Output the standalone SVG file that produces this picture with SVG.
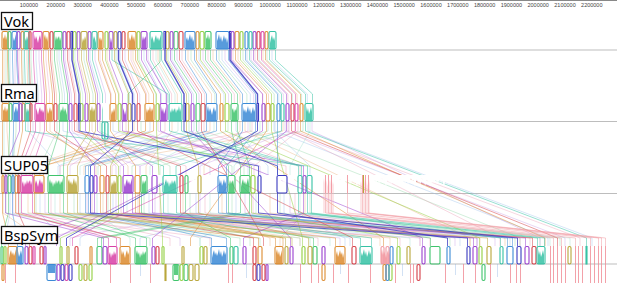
<svg xmlns="http://www.w3.org/2000/svg" width="617" height="285" viewBox="0 0 617 285">
<style>
.o{color:#dc8b2f}.g{color:#3fc46c}.bl{color:#3b8ad6}.p{color:#9a40cf}.t{color:#36c2a5}.r{color:#d63f48}.m{color:#d840a6}.l{color:#92cf40}.ol{color:#b9a63b}.n{color:#3a3ac0}.pk{color:#f29aa2}
.lo{color:#eab07a}.lg{color:#8fd6a4}.lb{color:#9cc0ec}.lp{color:#c79be6}.lk{color:#eb9cb5}.lt{color:#9edfcd}
.f rect{fill:currentColor;opacity:.85}
.b rect{fill:none;stroke:currentColor;stroke-width:1.1}
.k{fill:none;stroke:currentColor;stroke-width:.6;opacity:.85}
.k.n{stroke-width:.9}
.k.n1{stroke-width:1.4}
.x{fill:none;stroke:currentColor;stroke-width:.5;opacity:.8}
.ax{stroke:#bdbdbd;stroke-width:1.2}
.lab rect{fill:#fff;stroke:#111;stroke-width:1.3}
.lab text{font-family:"Noto Sans","Open Sans",sans-serif;font-size:14.5px;fill:#000}
.rl text{font-family:"Liberation Sans",sans-serif;font-size:5.5px;fill:#444;text-anchor:middle}
.pv{fill:none;stroke:#f08a94;stroke-width:1;opacity:.8}
.lv{fill:none;stroke-width:.7;opacity:.5}
</style>
<defs>
<pattern id="jag" patternUnits="userSpaceOnUse" width="29" height="18">
<polygon fill="#fff" points="0,0 29,0 29,6 28,9 27,5 26,10 25,7 24,12 23,6 22,9 21,4 20,8 19,11 18,5 17,9 16,3 15,7 14,10 13,6 12,9 11,4 10,7 9,12 8,8 7,5 6,9 5,3 4,8 3,6 2,10 1,5 0,7"/>
</pattern>
</defs>
<rect width="617" height="285" fill="#fff"/>
<g id="ruler" class="rl">
<line x1="0" y1="0.5" x2="617" y2="0.5" stroke="#888" stroke-width="1"/>
<text x="29" y="7">100000</text><text x="55.8" y="7">200000</text><text x="82.6" y="7">300000</text><text x="109.4" y="7">400000</text><text x="136.2" y="7">500000</text><text x="163" y="7">600000</text><text x="189.8" y="7">700000</text><text x="216.6" y="7">800000</text><text x="243.4" y="7">900000</text><text x="270.2" y="7">1000000</text><text x="297" y="7">1100000</text><text x="323.8" y="7">1200000</text><text x="350.6" y="7">1300000</text><text x="377.4" y="7">1400000</text><text x="404.2" y="7">1500000</text><text x="431" y="7">1600000</text><text x="457.8" y="7">1700000</text><text x="484.6" y="7">1800000</text><text x="511.4" y="7">1900000</text><text x="538.2" y="7">2000000</text><text x="565" y="7">2100000</text><text x="591.8" y="7">2200000</text>
</g>
<g id="axes">
<line class="ax" x1="0" y1="50" x2="617" y2="50"/>
<line class="ax" x1="0" y1="121.5" x2="617" y2="121.5"/>
<line class="ax" x1="0" y1="193.5" x2="617" y2="193.5"/>
<line class="ax" x1="0" y1="264" x2="617" y2="264"/>
</g>
<g id="connectors">
<path class="x lo" d="M4,50V60L4,94V103M27,50V60L28,94V103M52,50V60L56.5,94V103M79,50V60L87.3,94V103M107,50V60L119.2,94V103M133,50V60L148.8,94V103M158,50V60L177.3,94V103M188,50V60L211.5,94V103M213,50V60L240,94V103M238,50V60L268.5,94V103M263,50V60L297,94V103M7,121V131L10,166V175M50,121V131L96,166V175M92,121V131L128,166V175M134,121V131L30,166V175M172,121V131L146,166V175M210,121V131L40,166V175M240,121V131L204,166V175M283,121V131L84,166V175M3,193V213L40,238V246M28,193V213L380,238V246M60,193V213L470,238V246M103,193V213L300,238V246M138,193V213L390,238V246M183,193V213L270,238V246M222,193V213L480,238V246M270,193V213L505,238V246M305,193V213L280,238V246M245,121V131L470,238V246"/>
<path class="x lg" d="M6,50V60L6,94V103M31,50V60L32.5,94V103M57,50V60L62.2,94V103M84,50V60L93,94V103M116,50V60L129.4,94V103M139,50V60L155.7,94V103M168,50V60L188.7,94V103M191,50V60L214.9,94V103M219,50V60L246.9,94V103M243,50V60L274.2,94V103M267,50V60L301.6,94V103M16,121V131L13,166V175M57,121V131L40,166V175M100,121V131L170,166V175M141,121V131L232,166V175M189,121V131L244,166V175M228,121V131L98,166V175M268,121V131L160,166V175M303,121V131L132,166V175M6,193V213L150,238V246M36,193V213L240,238V246M74,193V213L260,238V246M108,193V213L450,238V246M144,193V213L250,238V246M190,193V213L540,238V246M232,193V213L310,238V246M280,193V213L560,238V246M310,193V213L515,238V246M250,121V131L520,238V246"/>
<path class="x lb" d="M10,50V60L10,94V103M36,50V60L38.2,94V103M59,50V60L64.5,94V103M90,50V60L99.8,94V103M120,50V60L134,94V103M144,50V60L161.4,94V103M172,50V60L193.3,94V103M199,50V60L224,94V103M222,50V60L250.3,94V103M247,50V60L278.8,94V103M272,50V60L307.3,94V103M28,121V131L60,166V175M63,121V131L210,166V175M113,121V131L248,166V175M150,121V131L58,166V175M194,121V131L18,166V175M236,121V131L268,166V175M274,121V131L310,166V175M10,193V213L5,238V246M40,193V213L60,238V246M80,193V213L510,238V246M113,193V213L80,238V246M149,193V213L460,238V246M196,193V213L350,238V246M236,193V213L140,238V246M284,193V213L345,238V246M275,121V131L548,238V246M308,121V131L592,238V246"/>
<path class="x lp" d="M15,50V60L15,94V103M39,50V60L41.7,94V103M65,50V60L71.3,94V103M95,50V60L105.5,94V103M125,50V60L139.7,94V103M148,50V60L165.9,94V103M177,50V60L199,94V103M203,50V60L228.6,94V103M225,50V60L253.7,94V103M251,50V60L283.3,94V103M33,121V131L140,166V175M72,121V131L116,166V175M120,121V131L70,166V175M158,121V131L260,166V175M199,121V131L120,166V175M248,121V131L140,166V175M289,121V131L200,166V175M13,193V213L120,238V246M45,193V213L420,238V246M87,193V213L180,238V246M116,193V213L340,238V246M155,193V213L45,238V246M200,193V213L70,238V246M245,193V213L455,238V246M290,193V213L495,238V246M285,121V131L565,238V246M312,121V131L540,238V246"/>
<path class="x lk" d="M19,50V60L19,94V103M46,50V60L49.6,94V103M69,50V60L75.9,94V103M100,50V60L111.2,94V103M131,50V60L146.5,94V103M153,50V60L171.6,94V103M182,50V60L204.7,94V103M208,50V60L234.3,94V103M233,50V60L262.8,94V103M255,50V60L287.9,94V103M40,121V131L26,166V175M77,121V131L186,166V175M126,121V131L286,166V175M165,121V131L112,166V175M204,121V131L300,166V175M252,121V131L60,166V175M298,121V131L254,166V175M16,193V213L210,238V246M51,193V213L170,238V246M92,193V213L400,238V246M121,193V213L520,238V246M160,193V213L318,238V246M205,193V213L430,238V246M253,193V213L530,238V246M295,193V213L420,238V246M295,121V131L580,238V246M288,121V131L500,238V246"/>
<path class="x lt" d="M23,50V60L23.4,94V103M75,50V60L82.7,94V103M156,50V60L175,94V103M259,50V60L292.5,94V103M4,121V131L4,166V175M178,121V131L80,166V175M214,121V131L150,166V175M260,121V131L234,166V175M310,121V131L290,166V175M20,193V213L300,238V246M55,193V213L330,238V246M97,193V213L130,238V246M127,193V213L200,238V246M168,193V213L410,238V246M210,193V213L550,238V246M256,193V213L200,238V246M300,193V213L570,238V246"/>
<path class="k o" d="M2.5,50V60L2.5,94V103M7.5,50V60L8.5,94V103M21.5,50V60L22.5,94V103M43.5,50V60L46.5,94V103M48.5,50V60L52.5,94V103M98.5,50V60L110.5,94V103M102.5,50V60L115.5,94V103M128.5,50V60L145.5,94V103M135.5,50V60L153.5,94V103M196.5,50V60L220.5,94V103M235.5,50V60L266.5,94V103M265.5,50V60L300.5,94V103M2.5,121V131L2.5,166V175M22.5,121V131L15.5,166V175M46.5,121V131L100.5,166V175M110.5,121V131L135.5,166V175M145.5,121V131L34.5,166V175M153.5,121V131L43.5,166V175M220.5,121V131L383.5,238V246M266.5,121V131L190.5,238V246M300.5,121V131L545,238V246M2.5,193V213L8.5,238V246M15.5,193V213L120.5,238V246M34.5,193V213L258.5,238V246M100.5,193V213L335.5,238V246M135.5,193V213L275.5,238V246M139.5,193V213L283,238V246"/>
<path class="k g" d="M8.5,50V60L9.5,94V103M54.5,50V60L59.5,94V103M61.5,50V60L67.5,94V103M174.5,50V60L196.5,94V103M205.5,50V60L231.5,94V103M210.5,50V60L237.5,94V103M160,50V62L128,94V103M9.5,121V131L8.5,166V175M59.5,121V131L48.5,166V175M67.5,121V131L63.5,166V175M196.5,121V131L228.5,166V175M231.5,121V131L240.5,166V175M237.5,121V131L249.5,166V175M8.5,193V213L1.5,238V246M48.5,193V213L135.5,238V246M63.5,193V213L146.5,238V246M141.5,193V213L313.5,238V246M185.5,193V213L230.5,238V246M228.5,193V213L430.5,238V246M240.5,193V213L97.5,238V246M249.5,193V213L101.5,238V246"/>
<path class="k bl" d="M12.5,50V60L13.5,94V103M16.5,50V60L18.5,94V103M185.5,50V60L206.5,94V103M194.5,50V60L216.5,94V103M216.5,50V60L242.5,94V103M228.5,50V60L255.5,94V103M245.5,50V60L277.5,94V103M13.5,121V131L12.5,166V175M206.5,121V131L85.5,166V175M216.5,121V131L88.5,166V175M242.5,121V131L218.5,166V175M255.5,121V131L226.5,166V175M277.5,121V131L277.5,166V175M12.5,193V213L17.5,238V246M85.5,193V213L211.5,238V246M88.5,193V213L226.5,238V246M218.5,193V213L507.5,238V246M226.5,193V213L512.5,238V246"/>
<path class="k p" d="M17.5,50V60L19.5,94V103M63.5,50V60L69.5,94V103M77.5,50V60L85.5,94V103M88.5,50V60L97.5,94V103M109.5,50V60L122.5,94V103M141.5,50V60L160.5,94V103M146.5,50V60L166.5,94V103M170.5,50V60L191.5,94V103M231.5,50V60L262.5,94V103M253.5,50V60L286.5,94V103M19.5,121V131L5.5,166V175M69.5,121V131L94.5,166V175M85.5,121V131L123.5,166V175M97.5,121V131L152.5,166V175M122.5,121V131L303.5,166V175M160.5,121V131L422.5,238V246M191.5,121V131L290.5,238V246M262.5,121V131L56.5,238V246M286.5,121V131L152.5,238V246M5.5,193V213L103.5,238V246M94.5,193V213L25.5,238V246M123.5,193V213L473.5,238V246M132.5,193V213L477,238V246M152.5,193V213L525.5,238V246M303.5,193V213L243.5,238V246"/>
<path class="k t" d="M24.5,50V60L25.5,94V103M28.5,50V60L29.5,94V103M92.5,50V60L102.5,94V122M150.5,50V60L169.5,94V103M161.5,50V60L181.5,94V103M249.5,50V60L281.5,94V103M269.5,50V60L305.5,94V103M275.5,50V60L312.5,94V103M112,50V60L168,94V103M25.5,121V131L307.5,166V175M105,140V146L163.5,166V175M169.5,121V131L298.5,166V175M181.5,121V131L301.5,166V175M281.5,121V131L176,166V175M305.5,121V131L586.5,238V246M163.5,193V213L360.5,238V246M176.5,193V213L371.5,238V246M298.5,193V213L537.5,238V246M307.5,193V213L500.5,238V246M311.5,193V213L544.5,238V246"/>
<path class="k r" d="M29.5,50V60L30.5,94V103M50.5,50V60L54.5,94V103M67.5,50V60L74.5,94V103M122.5,50V60L137.5,94V103M179.5,50V60L201.5,94V103M257.5,50V60L291.5,94V103M30.5,121V131L18.5,166V175M54.5,121V131L106.5,166V175M74.5,121V131L180.5,166V175M137.5,121V131L352.5,238V246M201.5,121V131L263.5,238V246M291.5,121V131L557.5,238V246M18.5,193V213L29.5,238V246M106.5,193V213L253.5,238V246M180.5,193V213L532.5,238V246"/>
<path class="k m" d="M33.5,50V60L35.5,94V103M41.5,50V60L44.5,94V103M261.5,50V60L295.5,94V103M35.5,121V131L21.5,166V175M44.5,121V131L32.5,166V175M295.5,121V131L72.5,238V246M21.5,193V213L108.5,238V246M32.5,193V213L116.5,238V246"/>
<path class="k l" d="M73.5,50V60L80.5,94V103M105.5,50V60L118.5,94V103M137.5,50V60L156.5,94V103M200.5,50V60L225.5,94V103M240.5,50V60L271.5,94V103M80.5,121V131L118.5,166V175M118.5,121V131L251.5,166V175M156.5,121V131L162.5,238V246M225.5,121V131L479.5,238V246M271.5,121V131L302.5,238V246M118.5,193V213L60.5,238V246M251.5,193V213L397.5,238V246"/>
<path class="k ol" d="M81.5,50V60L89.5,94V103M86.5,50V60L95.5,94V103M114.5,50V60L128.5,94V103M166.5,50V60L186.5,94V103M89.5,121V131L67.5,166V175M95.5,121V131L77.5,166V175M128.5,121V131L110.5,166V175M186.5,121V131L198.5,166V175M67.5,193V213L285.5,238V246M77.5,193V213L292,238V246M110.5,193V213L487.5,238V246M198.5,193V213L308.5,238V246"/>
<path class="k n n1" d="M72,50V60L79,94V103M118.5,50V60L132.5,94V103M165,50V60L184,94V103M230,50V60L257.5,94V103"/>
<path class="k n" d="M132.5,121V131L90.5,166V175M79,121V131L258.5,166V175M184,121V131L277.5,166V175M257.5,121V131L66.5,238V246M90.5,193V213L467.5,238V246M258.5,193V213L517.5,238V246M277.5,193V213L447.5,238V246"/>
<path class="k pk" d="M325.5,193V213L553.5,238V246M328.5,193V213L561.5,238V246M331.5,193V213L575.5,238V246M347.5,193V213L590.5,238V246M362.5,193V213L598.5,238V246M365.5,193V213L601.5,238V246M368.5,193V213L605.5,238V246"/>
</g>
<g id="vok" transform="translate(0,31)">
<g class="f o"><rect x="3" y="1" width="4" height="17"/><rect x="44" y="1" width="4" height="17"/><rect x="99" y="1" width="3" height="17"/><rect x="129" y="1" width="6" height="17"/></g>
<g class="f g"><rect x="55" y="1" width="6" height="17"/><rect x="206" y="1" width="4" height="17"/></g>
<g class="f bl"><rect x="13" y="1" width="3" height="17"/><rect x="186" y="1" width="8" height="17"/><rect x="217" y="1" width="11" height="17"/></g>
<g class="f p"><rect x="110" y="1" width="2" height="17"/><rect x="142" y="1" width="4" height="17"/></g>
<g class="f t"><rect x="25" y="1" width="3" height="17"/><rect x="93" y="1" width="3" height="17"/><rect x="151" y="1" width="10" height="17"/><rect x="270" y="1" width="5" height="17"/></g>
<g class="f m"><rect x="34" y="1" width="7" height="17"/></g>
<g class="f ol"><rect x="82" y="1" width="4" height="17"/></g>
<rect x="0" y="0" width="617" height="18" fill="url(#jag)"/>
<g class="b o"><rect x="2" y=".5" width="6" height="17.5" rx="1.5"/><rect x="21" y=".5" width="3" height="17.5" rx="1.5"/><rect x="43" y=".5" width="6" height="17.5" rx="1.5"/><rect x="98" y=".5" width="5" height="17.5" rx="1.5"/><rect x="128" y=".5" width="8" height="17.5" rx="1.5"/><rect x="196" y=".5" width="3" height="17.5" rx="1.5"/><rect x="235" y=".5" width="4" height="17.5" rx="1.5"/><rect x="265" y=".5" width="3" height="17.5" rx="1.5"/></g>
<g class="b g"><rect x="8" y=".5" width="3" height="17.5" rx="1.5"/><rect x="54" y=".5" width="8" height="17.5" rx="1.5"/><rect x="174" y=".5" width="4" height="17.5" rx="1.5"/><rect x="205" y=".5" width="6" height="17.5" rx="1.5"/></g>
<g class="b bl"><rect x="12" y=".5" width="5" height="17.5" rx="1.5"/><rect x="185" y=".5" width="10" height="17.5" rx="1.5"/><rect x="216" y=".5" width="13" height="17.5" rx="1.5"/><rect x="245" y=".5" width="3" height="17.5" rx="1.5"/></g>
<g class="b p"><rect x="17" y=".5" width="3" height="17.5" rx="1.5"/><rect x="63" y=".5" width="3" height="17.5" rx="1.5"/><rect x="77" y=".5" width="3" height="17.5" rx="1.5"/><rect x="88" y=".5" width="3" height="17.5" rx="1.5"/><rect x="109" y=".5" width="4" height="17.5" rx="1.5"/><rect x="141" y=".5" width="6" height="17.5" rx="1.5"/><rect x="170" y=".5" width="3" height="17.5" rx="1.5"/><rect x="231" y=".5" width="3" height="17.5" rx="1.5"/><rect x="253" y=".5" width="3" height="17.5" rx="1.5"/></g>
<g class="b t"><rect x="24" y=".5" width="5" height="17.5" rx="1.5"/><rect x="92" y=".5" width="5" height="17.5" rx="1.5"/><rect x="150" y=".5" width="12" height="17.5" rx="1.5"/><rect x="249" y=".5" width="3" height="17.5" rx="1.5"/><rect x="269" y=".5" width="7" height="17.5" rx="1.5"/></g>
<g class="b r"><rect x="29" y=".5" width="2" height="17.5" rx="1"/><rect x="50" y=".5" width="3" height="17.5" rx="1.5"/><rect x="67" y=".5" width="3" height="17.5" rx="1.5"/><rect x="122" y=".5" width="3" height="17.5" rx="1.5"/><rect x="179" y=".5" width="4" height="17.5" rx="1.5"/><rect x="257" y=".5" width="3" height="17.5" rx="1.5"/></g>
<g class="b m"><rect x="33" y=".5" width="9" height="17.5" rx="1.5"/><rect x="261" y=".5" width="3" height="17.5" rx="1.5"/></g>
<g class="b l"><rect x="73" y=".5" width="3" height="17.5" rx="1.5"/><rect x="105" y=".5" width="3" height="17.5" rx="1.5"/><rect x="137" y=".5" width="3" height="17.5" rx="1.5"/><rect x="200" y=".5" width="4" height="17.5" rx="1.5"/><rect x="240" y=".5" width="3" height="17.5" rx="1.5"/></g>
<g class="b ol"><rect x="81" y=".5" width="6" height="17.5" rx="1.5"/><rect x="114" y=".5" width="3" height="17.5" rx="1.5"/><rect x="166" y=".5" width="3" height="17.5" rx="1.5"/></g>
<g class="b n"><rect x="71" y=".5" width="1.5" height="17.5"/><rect x="118" y=".5" width="3" height="17.5" rx="1.5"/><rect x="164" y=".5" width="1.5" height="17.5"/><rect x="229.5" y=".5" width="1.2" height="17.5"/></g>
</g>
<g id="rma" transform="translate(0,103)">
<g class="f o"><rect x="3" y="1" width="5" height="17"/><rect x="47" y="1" width="5" height="17"/><rect x="111" y="1" width="4" height="17"/><rect x="146" y="1" width="7" height="17"/></g>
<g class="f g"><rect x="60" y="1" width="7" height="17"/><rect x="232" y="1" width="5" height="17"/></g>
<g class="f bl"><rect x="14" y="1" width="4" height="17"/><rect x="207" y="1" width="9" height="17"/><rect x="243" y="1" width="12" height="17"/></g>
<g class="f p"><rect x="123" y="1" width="3" height="17"/><rect x="161" y="1" width="5" height="17"/></g>
<g class="f t"><rect x="26" y="1" width="3" height="17"/><rect x="170" y="1" width="11" height="17"/><rect x="306" y="1" width="6" height="17"/></g>
<g class="f m"><rect x="36" y="1" width="8" height="17"/></g>
<g class="f ol"><rect x="90" y="1" width="5" height="17"/></g>
<rect x="0" y="0" width="617" height="18" fill="url(#jag)"/>
<g class="b o"><rect x="2" y=".5" width="7" height="17.5" rx="1.5"/><rect x="22" y=".5" width="3" height="17.5" rx="1.5"/><rect x="46" y=".5" width="7" height="17.5" rx="1.5"/><rect x="110" y=".5" width="6" height="17.5" rx="1.5"/><rect x="145" y=".5" width="9" height="17.5" rx="1.5"/><rect x="220" y=".5" width="3" height="17.5" rx="1.5"/><rect x="266" y=".5" width="4" height="17.5" rx="1.5"/><rect x="300" y=".5" width="3" height="17.5" rx="1.5"/></g>
<g class="b g"><rect x="9" y=".5" width="3" height="17.5" rx="1.5"/><rect x="59" y=".5" width="9" height="17.5" rx="1.5"/><rect x="196" y=".5" width="4" height="17.5" rx="1.5"/><rect x="231" y=".5" width="7" height="17.5" rx="1.5"/></g>
<g class="b bl"><rect x="13" y=".5" width="6" height="17.5" rx="1.5"/><rect x="206" y=".5" width="11" height="17.5" rx="1.5"/><rect x="242" y=".5" width="14" height="17.5" rx="1.5"/><rect x="277" y=".5" width="3" height="17.5" rx="1.5"/></g>
<g class="b p"><rect x="19" y=".5" width="3" height="17.5" rx="1.5"/><rect x="69" y=".5" width="3" height="17.5" rx="1.5"/><rect x="85" y=".5" width="3" height="17.5" rx="1.5"/><rect x="97" y=".5" width="3" height="17.5" rx="1.5"/><rect x="122" y=".5" width="5" height="17.5" rx="1.5"/><rect x="160" y=".5" width="7" height="17.5" rx="1.5"/><rect x="191" y=".5" width="3" height="17.5" rx="1.5"/><rect x="262" y=".5" width="3" height="17.5" rx="1.5"/><rect x="286" y=".5" width="3" height="17.5" rx="1.5"/></g>
<g class="b t"><rect x="25" y=".5" width="5" height="17.5" rx="1.5"/><rect x="169" y=".5" width="13" height="17.5" rx="1.5"/><rect x="281" y=".5" width="3" height="17.5" rx="1.5"/><rect x="305" y=".5" width="8" height="17.5" rx="1.5"/><rect x="102" y="19" width="6" height="17" rx="1.5"/></g>
<g class="f t"><rect x="104" y="19.5" width="1.5" height="16"/></g>
<g class="b r"><rect x="30" y=".5" width="2" height="17.5" rx="1"/><rect x="54" y=".5" width="3" height="17.5" rx="1.5"/><rect x="74" y=".5" width="3" height="17.5" rx="1.5"/><rect x="137" y=".5" width="3" height="17.5" rx="1.5"/><rect x="201" y=".5" width="4" height="17.5" rx="1.5"/><rect x="291" y=".5" width="3" height="17.5" rx="1.5"/></g>
<g class="b m"><rect x="35" y=".5" width="10" height="17.5" rx="1.5"/><rect x="295" y=".5" width="3" height="17.5" rx="1.5"/></g>
<g class="b l"><rect x="80" y=".5" width="3" height="17.5" rx="1.5"/><rect x="118" y=".5" width="3" height="17.5" rx="1.5"/><rect x="156" y=".5" width="3" height="17.5" rx="1.5"/><rect x="225" y=".5" width="4" height="17.5" rx="1.5"/><rect x="271" y=".5" width="3" height="17.5" rx="1.5"/></g>
<g class="b ol"><rect x="89" y=".5" width="7" height="17.5" rx="1.5"/><rect x="128" y=".5" width="3" height="17.5" rx="1.5"/><rect x="186" y=".5" width="3" height="17.5" rx="1.5"/></g>
<g class="b n"><rect x="78.5" y=".5" width="1.5" height="17.5"/><rect x="132" y=".5" width="3" height="17.5" rx="1.5"/><rect x="184" y=".5" width="1.5" height="17.5"/><rect x="257" y=".5" width="1.5" height="17.5"/></g>
</g>
<g id="sup05" transform="translate(0,175)">
<rect x="323" y="0" width="11" height="38" fill="#f7b8be" opacity=".35"/><rect x="360" y="0" width="10" height="38" fill="#f7b8be" opacity=".35"/>
<g class="f m"><rect x="22" y="1" width="10" height="17"/><rect x="35" y="1" width="8" height="17"/></g>
<g class="f g"><rect x="49" y="1" width="14" height="17"/><rect x="142" y="1" width="4" height="17"/><rect x="229" y="1" width="5" height="17"/><rect x="241" y="1" width="8" height="17"/></g>
<g class="f ol"><rect x="68" y="1" width="9" height="17"/><rect x="111" y="1" width="5" height="17"/></g>
<g class="f p"><rect x="124" y="1" width="8" height="17"/></g>
<g class="f t"><rect x="164" y="1" width="12" height="17"/></g>
<g class="f bl"><rect x="219" y="1" width="7" height="17"/></g>
<rect x="0" y="0" width="617" height="18" fill="url(#jag)"/>
<g class="b o"><rect x="2" y=".5" width="2" height="17.5" rx="1"/><rect x="15" y=".5" width="3" height="17.5" rx="1.5"/><rect x="34" y=".5" width="10" height="17.5" rx="1.5"/><rect x="100" y=".5" width="4" height="17.5" rx="1.5"/><rect x="135" y=".5" width="5" height="17.5" rx="1.5"/></g>
<g class="b p"><rect x="5" y=".5" width="2" height="17.5" rx="1"/><rect x="94" y=".5" width="3" height="17.5" rx="1.5"/><rect x="123" y=".5" width="10" height="17.5" rx="1.5"/><rect x="152" y=".5" width="5" height="17.5" rx="1.5"/><rect x="303" y=".5" width="3" height="17.5" rx="1.5"/></g>
<g class="b g"><rect x="8" y=".5" width="3" height="17.5" rx="1.5"/><rect x="48" y=".5" width="16" height="17.5" rx="1.5"/><rect x="141" y=".5" width="6" height="17.5" rx="1.5"/><rect x="185" y=".5" width="3" height="17.5" rx="1.5"/><rect x="228" y=".5" width="7" height="17.5" rx="1.5"/><rect x="240" y=".5" width="10" height="17.5" rx="1.5"/></g>
<g class="b bl"><rect x="12" y=".5" width="2" height="17.5" rx="1"/><rect x="85" y=".5" width="4" height="17.5" rx="1.5"/><rect x="218" y=".5" width="9" height="17.5" rx="1.5"/></g>
<g class="b r"><rect x="18" y=".5" width="2" height="17.5" rx="1"/><rect x="106" y=".5" width="3" height="17.5" rx="1.5"/><rect x="180" y=".5" width="3" height="17.5" rx="1.5"/></g>
<g class="b m"><rect x="21" y=".5" width="12" height="17.5" rx="1.5"/></g>
<g class="b ol"><rect x="67" y=".5" width="11" height="17.5" rx="1.5"/><rect x="110" y=".5" width="7" height="17.5" rx="1.5"/><rect x="198" y=".5" width="3" height="17.5" rx="1.5"/></g>
<g class="b l"><rect x="118" y=".5" width="3" height="17.5" rx="1.5"/><rect x="251" y=".5" width="4" height="17.5" rx="1.5"/></g>
<g class="b t"><rect x="163" y=".5" width="14" height="17.5" rx="1.5"/><rect x="298" y=".5" width="4" height="17.5" rx="1.5"/><rect x="307" y=".5" width="5" height="17.5" rx="1.5"/></g>
<g class="b n"><rect x="90" y=".5" width="3" height="17.5" rx="1.5"/><rect x="258" y=".5" width="3" height="17.5" rx="1.5"/><rect x="277" y=".5" width="10" height="17.5" rx="1.5"/></g>
<path class="pv" d="M325.5,0V18M328.5,0V18M331.5,0V18M347.5,0V18M362.5,0V18M365.5,0V18M368.5,0V18"/>
<path d="M363.5,0V18" stroke="#b9a63b" stroke-width="1"/>
</g>
<g id="bspsym" transform="translate(0,246)">
<g class="f o"><rect x="9" y="1" width="7" height="17"/><rect x="121" y="1" width="8" height="17"/><rect x="276" y="1" width="6" height="17"/><rect x="336" y="1" width="8" height="17"/></g>
<g class="f bl"><rect x="18" y="1" width="4" height="17"/><rect x="212" y="1" width="14" height="17"/></g>
<g class="f m"><rect x="109" y="1" width="7" height="17"/></g>
<g class="f g"><rect x="136" y="1" width="10" height="17"/></g>
<g class="f t"><rect x="361" y="1" width="10" height="17"/><rect x="538" y="1" width="6" height="17"/></g>
<g class="f pk"><rect x="381" y="1" width="9" height="17"/></g>
<rect x="0" y="0" width="617" height="18" fill="url(#jag)"/>
<g class="b g"><rect x="1" y=".5" width="2" height="17.5" rx="1"/><rect x="97" y=".5" width="5" height="17.5" rx="1.5"/><rect x="135" y=".5" width="12" height="17.5" rx="1.5"/><rect x="230" y=".5" width="3" height="17.5" rx="1.5"/><rect x="313" y=".5" width="4" height="17.5" rx="1.5"/><rect x="430" y=".5" width="10" height="17.5" rx="1.5"/><rect x="173" y="18.5" width="6" height="16" rx="1.5"/><rect x="184" y="18.5" width="4" height="16" rx="1.5"/><rect x="482" y="18.5" width="3" height="16" rx="1.5"/></g>
<g class="b l"><rect x="4" y=".5" width="2" height="17.5" rx="1"/><rect x="60" y=".5" width="2" height="17.5" rx="1"/><rect x="162" y=".5" width="2" height="17.5" rx="1"/><rect x="200" y=".5" width="3" height="17.5" rx="1.5"/><rect x="302" y=".5" width="3" height="17.5" rx="1.5"/><rect x="397" y=".5" width="3" height="17.5" rx="1.5"/><rect x="479" y=".5" width="3" height="17.5" rx="1.5"/><rect x="79" y="18.5" width="3" height="16" rx="1.5"/><rect x="89" y="18.5" width="3" height="16" rx="1.5"/><rect x="180" y="18.5" width="3" height="16" rx="1.5"/><rect x="389" y="18.5" width="3" height="16" rx="1.5"/></g>
<g class="b o"><rect x="8" y=".5" width="9" height="17.5" rx="1.5"/><rect x="90" y=".5" width="2" height="17.5" rx="1"/><rect x="120" y=".5" width="10" height="17.5" rx="1.5"/><rect x="258" y=".5" width="4" height="17.5" rx="1.5"/><rect x="275" y=".5" width="8" height="17.5" rx="1.5"/><rect x="335" y=".5" width="10" height="17.5" rx="1.5"/><rect x="2" y="18.5" width="2" height="16" rx="1"/><rect x="322" y="18.5" width="3" height="16" rx="1.5"/><rect x="383" y="18.5" width="3" height="16" rx="1.5"/></g>
<g class="b bl"><rect x="17" y=".5" width="6" height="17.5" rx="1.5"/><rect x="211" y=".5" width="16" height="17.5" rx="1.5"/><rect x="390" y=".5" width="3" height="17.5" rx="1.5"/><rect x="447" y=".5" width="3" height="17.5" rx="1.5"/><rect x="507" y=".5" width="6" height="17.5" rx="1.5"/><rect x="47" y="18.5" width="9" height="16" rx="1.5"/><rect x="386" y="18.5" width="3" height="16" rx="1.5"/></g>
<g class="b p"><rect x="25" y=".5" width="3" height="17.5" rx="1.5"/><rect x="44" y=".5" width="2" height="17.5" rx="1"/><rect x="103" y=".5" width="4" height="17.5" rx="1.5"/><rect x="152" y=".5" width="3" height="17.5" rx="1.5"/><rect x="243" y=".5" width="3" height="17.5" rx="1.5"/><rect x="290" y=".5" width="3" height="17.5" rx="1.5"/><rect x="322" y=".5" width="3" height="17.5" rx="1.5"/><rect x="422" y=".5" width="3" height="17.5" rx="1.5"/><rect x="473" y=".5" width="4" height="17.5" rx="1.5"/><rect x="525" y=".5" width="4" height="17.5" rx="1.5"/><rect x="57" y="18.5" width="3" height="16" rx="1.5"/><rect x="266" y="18.5" width="2" height="16" rx="1"/></g>
<g class="b r"><rect x="29" y=".5" width="3" height="17.5" rx="1.5"/><rect x="40" y=".5" width="3" height="17.5" rx="1.5"/><rect x="75" y=".5" width="3" height="17.5" rx="1.5"/><rect x="156" y=".5" width="3" height="17.5" rx="1.5"/><rect x="253" y=".5" width="3" height="17.5" rx="1.5"/><rect x="352" y=".5" width="4" height="17.5" rx="1.5"/><rect x="532" y=".5" width="4" height="17.5" rx="1.5"/><rect x="253" y="18.5" width="3" height="16" rx="1.5"/><rect x="262" y="18.5" width="3" height="16" rx="1.5"/><rect x="417" y="18.5" width="3" height="16" rx="1.5"/></g>
<g class="b m"><rect x="33" y=".5" width="2" height="17.5" rx="1"/><rect x="108" y=".5" width="9" height="17.5" rx="1.5"/><rect x="65" y="18.5" width="3" height="16" rx="1.5"/></g>
<g class="b ol"><rect x="67" y=".5" width="2" height="17.5" rx="1"/><rect x="182" y=".5" width="2" height="17.5" rx="1"/><rect x="204" y=".5" width="3" height="17.5" rx="1.5"/><rect x="285" y=".5" width="3" height="17.5" rx="1.5"/><rect x="308" y=".5" width="4" height="17.5" rx="1.5"/><rect x="407" y=".5" width="3" height="17.5" rx="1.5"/><rect x="487" y=".5" width="4" height="17.5" rx="1.5"/><rect x="568" y=".5" width="3" height="17.5" rx="1.5"/><rect x="84" y="18.5" width="3" height="16" rx="1.5"/><rect x="165" y="18.5" width="1" height="16"/><rect x="189" y="18.5" width="4" height="16" rx="1.5"/><rect x="195" y="18.5" width="4" height="16" rx="1.5"/></g>
<g class="b t"><rect x="234" y=".5" width="4" height="17.5" rx="1.5"/><rect x="360" y=".5" width="12" height="17.5" rx="1.5"/><rect x="500" y=".5" width="3" height="17.5" rx="1.5"/><rect x="537" y=".5" width="8" height="17.5" rx="1.5"/><rect x="586" y=".5" width="1" height="17.5"/></g>
<g class="b n"><rect x="467" y=".5" width="3" height="17.5" rx="1.5"/><rect x="517" y=".5" width="4" height="17.5" rx="1.5"/><rect x="61" y="18.5" width="3" height="16" rx="1.5"/><rect x="69" y="18.5" width="3" height="16" rx="1.5"/><rect x="257" y="18.5" width="3" height="16" rx="1.5"/></g>
<g class="b pk"><rect x="381" y=".5" width="3" height="17.5" rx="1.5"/><rect x="386" y=".5" width="3" height="17.5" rx="1.5"/></g>
<g class="f bl"><rect x="48" y="19" width="7" height="8"/></g>
<g class="f g"><rect x="174" y="19" width="4" height="10"/></g>
<path class="pv" d="M550.5,0V37M553.5,0V37M557.5,0V37M561.5,0V37M565.5,0V37M575.5,0V37M578.5,0V37M582.5,0V37M590.5,0V37M594.5,0V37M598.5,0V37M601.5,0V37M605.5,0V37M5.5,18V37M15.5,18V37M110.5,18V37M130.5,18V37M150.5,18V37M228.5,18V37M232.5,18V37M300.5,18V37M311.5,18V37M318.5,18V37M333.5,18V37M348.5,18V37M370.5,18V37M395.5,18V37M410.5,18V37M413.5,18V37M445.5,18V37M463.5,18V37M475.5,18V37M490.5,18V37M510.5,18V37M516.5,18V37M520.5,18V37"/>
<path class="lv" stroke="#7fa8e0" d="M140.5,18V30M246.5,18V32M340.5,18V28M402.5,18V30M455.5,18V29M497.5,18V31"/>
</g>
<g id="label-vok" class="lab"><rect x="1.5" y="12.5" width="31" height="17"/><text x="4" y="26.5">Vok</text></g>
<g id="label-rma" class="lab"><rect x="1.5" y="84.5" width="35" height="17"/><text x="4" y="98.5">Rma</text></g>
<g id="label-sup05" class="lab"><rect x="1.5" y="156.5" width="46" height="17"/><text x="4" y="170.5">SUP05</text></g>
<g id="label-bspsym" class="lab"><rect x="1.5" y="226.5" width="56" height="17"/><text x="4" y="240.5">BspSym</text></g>
</svg>
